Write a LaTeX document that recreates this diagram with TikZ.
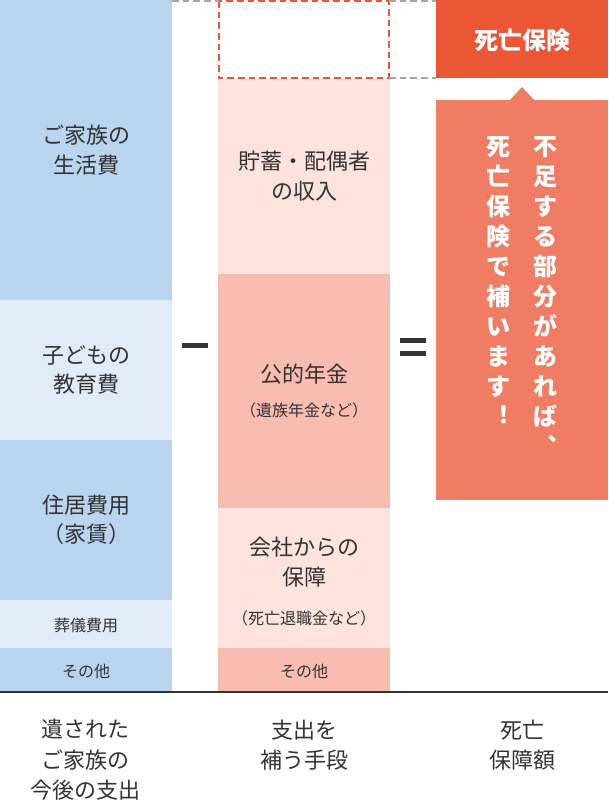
\documentclass[tikz,border=0pt]{standalone}
\usepackage{fontspec}
\setmainfont{Noto Sans CJK JP}
\definecolor{bA}{HTML}{B9D4EF}
\definecolor{bB}{HTML}{E1ECF8}
\definecolor{pA}{HTML}{FDE3DE}
\definecolor{pB}{HTML}{F8BCB0}
\definecolor{rA}{HTML}{EB5635}
\definecolor{rB}{HTML}{F07C64}
\definecolor{tx}{HTML}{333333}
\begin{document}
\begin{tikzpicture}[x=0.75pt,y=-0.75pt,
  lab/.style={text=tx,font=\fontsize{16.5}{22}\selectfont,align=center},
  sm/.style={text=tx,font=\fontsize{12}{15}\selectfont,align=center},
  vert/.style={text=white,font=\fontsize{18}{22.5}\bfseries\selectfont,align=center}]
\useasboundingbox (0,0) rectangle (608,811);
% left column
\fill[bA] (0,0) rectangle (172,300);
\fill[bB] (0,300) rectangle (172,440);
\fill[bA] (0,440) rectangle (172,600);
\fill[bB] (0,600) rectangle (172,648);
\fill[bA] (0,648) rectangle (172,692);
\node[lab] (l1) at (86,150) {ご家族の\\生活費};
\node[lab] (l2) at (86,370) {子どもの\\教育費};
\node[lab] (l3) at (86,520) {住居費用\\（家賃）};
\node[sm] (l4) at (86,625) {葬儀費用};
\node[sm] (l5) at (86,671) {その他};
% middle column
\fill[pA] (218,78) rectangle (390,274);
\fill[pB] (218,274) rectangle (390,508);
\fill[pA] (218,508) rectangle (390,648);
\fill[pB] (218,648) rectangle (390,692);
\draw[rA,line width=1.2pt,dashed,dash pattern=on 5pt off 3pt] (219,1) rectangle (389,78);
\draw[gray!70,line width=1.2pt,dash pattern=on 5pt off 3pt] (172,1) -- (219,1) (389,1) -- (436,1) (389,78) -- (436,78);
\node[lab] (m1) at (304,176) {貯蓄・配偶者\\の収入};
\node[lab] (m2) at (304,374) {公的年金};
\node[sm] (m2b) at (304,410) {（遺族年金など）};
\node[lab] (m3) at (304,562) {会社からの\\保障};
\node[sm] (m3b) at (304,618) {（死亡退職金など）};
\node[sm] (m4) at (304,671) {その他};
% operators
\fill[tx] (182,343) rectangle (208,348);
\fill[tx] (400,338) rectangle (426,343);
\fill[tx] (400,351) rectangle (426,356);
% right column
\fill[rA] (436,0) rectangle (608,78);
\node[text=white,font=\fontsize{18}{22}\bfseries\selectfont] (r0) at (522,40) {死亡保険};
\fill[rB] (436,100) rectangle (608,500);
\fill[rB] (510,100) -- (522,87) -- (534,100) -- cycle;
\node[vert,anchor=north] (v1) at (545,132) {不\\足\\す\\る\\部\\分\\が\\あ\\れ\\ば\\︑};
\node[vert,anchor=north] (v2) at (498,132) {死\\亡\\保\\険\\で\\補\\い\\ま\\す\\︕};
% base line
\draw[tx,line width=2.2pt] (0,692) -- (608,692);
\node[lab,font=\fontsize{16.5}{23}\selectfont] (b1) at (86,760) {遺された\\ご家族の\\今後の支出};
\node[lab,font=\fontsize{16.5}{23}\selectfont] (b2) at (304,745) {支出を\\補う手段};
\node[lab,font=\fontsize{16.5}{23}\selectfont] (b3) at (522,745) {死亡\\保障額};
\end{tikzpicture}
\end{document}
